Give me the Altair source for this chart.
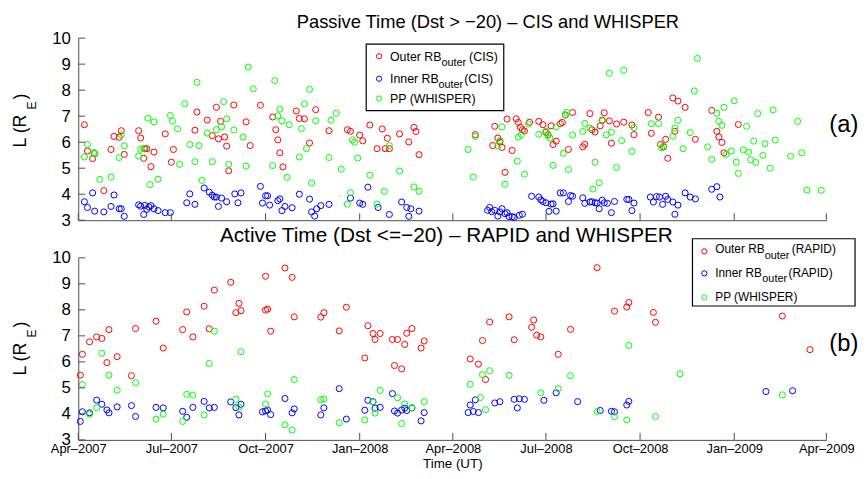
import pandas as pd
import altair as alt

START = pd.Timestamp("2007-04-01")

# (days after 1 Apr 2007, L in R_E)
passive_outer = [
    (6, 6.67), (9, 5.66), (14, 5.37), (16, 5.56), (25, 4.14), (32, 5.72), (35, 6.22),
    (40, 6.19), (42, 6.44), (45, 5.53), (59, 6.44), (61, 6.16), (64, 5.38), (65, 5.75),
    (67, 5.75), (71, 5.06), (74, 5.62), (85, 6.32), (91, 5.23), (93, 5.72), (114, 6.46),
    (116, 7.16), (126, 6.85), (131, 6.25), (135, 7.34), (137, 6.13), (139, 6.80),
    (143, 6.20), (145, 5.85), (147, 4.90), (152, 7.43), (164, 6.78), (168, 5.87),
    (178, 7.42), (190, 6.97), (193, 6.48), (195, 6.09), (197, 5.59), (200, 5.05),
    (213, 7.20), (216, 6.91), (221, 6.90), (226, 5.97), (232, 7.25), (245, 6.44),
    (263, 6.48), (266, 6.42), (275, 6.27), (278, 6.05), (285, 6.66), (292, 5.75),
    (297, 6.51), (300, 5.75), (302, 6.15), (304, 5.75), (314, 6.32), (323, 6.01),
    (328, 6.57), (330, 6.41), (333, 5.52),
    (388, 6.29), (405, 5.87), (407, 6.61), (410, 6.16), (412, 6.01), (414, 5.80),
    (417, 4.84), (419, 6.89), (424, 5.68), (428, 6.90), (430, 6.76), (432, 6.57),
    (434, 6.48), (436, 6.43), (441, 6.77), (450, 6.80), (454, 6.67), (457, 6.38),
    (459, 6.29), (462, 6.63), (464, 5.91), (467, 6.04), (471, 6.71), (473, 6.76),
    (476, 7.05), (479, 5.72), (483, 7.14), (493, 5.82), (495, 5.92), (500, 7.10),
    (502, 6.48), (505, 6.39), (510, 6.63), (512, 6.85), (514, 7.13), (519, 6.82),
    (521, 5.96), (526, 6.70), (533, 6.77), (541, 6.66), (543, 6.29), (557, 7.14),
    (560, 6.34), (567, 6.96), (569, 5.91), (572, 5.82), (574, 6.11), (576, 5.38),
    (581, 7.70), (583, 6.42), (586, 7.58), (593, 7.34), (603, 6.11), (619, 7.22),
    (624, 6.42), (626, 6.20), (629, 5.99), (631, 5.59), (645, 6.68),
]
passive_inner = [
    (6, 3.71), (9, 3.49), (14, 4.05), (16, 3.35), (25, 3.32), (32, 3.53), (35, 3.97),
    (40, 3.44), (42, 3.44), (45, 3.15), (59, 3.59), (61, 3.54), (64, 3.22), (65, 3.57),
    (67, 3.42), (69, 3.51), (71, 3.56), (74, 3.44), (78, 3.37), (85, 3.29), (90, 3.29),
    (106, 3.67), (109, 4.01), (114, 3.61), (123, 4.24), (128, 4.08), (131, 3.96),
    (133, 3.89), (135, 3.89), (137, 3.53), (140, 3.85), (145, 3.71), (153, 4.01),
    (156, 3.67), (159, 4.05), (178, 4.30), (180, 3.66), (183, 3.94), (185, 3.94),
    (187, 3.58), (195, 3.75), (197, 3.82), (199, 3.37), (202, 3.53), (209, 3.48),
    (216, 4.00), (226, 3.81), (228, 3.32), (231, 3.16), (233, 3.44), (237, 3.56),
    (245, 3.61), (266, 3.85), (275, 3.66), (278, 3.61), (283, 4.27), (293, 3.49),
    (304, 3.22), (316, 3.70), (321, 3.49), (323, 3.15), (325, 3.44), (333, 3.35),
    (400, 3.38), (402, 3.49), (404, 3.33), (407, 3.38), (410, 3.16), (412, 3.32),
    (414, 3.44), (417, 3.25), (419, 3.29), (421, 3.14), (424, 3.14), (426, 3.11),
    (431, 3.19), (434, 3.23), (443, 3.92), (450, 3.89), (452, 3.78), (454, 3.72),
    (457, 3.67), (460, 3.34), (462, 3.62), (464, 3.63), (467, 3.35), (471, 4.05),
    (474, 4.05), (479, 3.72), (481, 3.95), (483, 3.92), (493, 3.86), (495, 3.65),
    (500, 3.70), (502, 3.71), (505, 3.67), (507, 3.66), (509, 3.44), (512, 3.77),
    (514, 3.67), (517, 3.65), (521, 3.29), (524, 3.72), (536, 3.80), (538, 3.80),
    (541, 3.37), (543, 3.66), (559, 3.89), (562, 3.70), (565, 3.91), (568, 3.89),
    (571, 3.61), (574, 3.92), (576, 3.80), (581, 3.70), (583, 3.23), (586, 3.58),
    (593, 4.05), (598, 3.89), (603, 3.82), (619, 4.19), (624, 4.29), (627, 3.89),
]
passive_pp = [
    (6, 5.43), (9, 5.91), (15, 5.61), (16, 5.56), (21, 4.57), (32, 4.66), (40, 5.41),
    (42, 6.28), (45, 5.86), (59, 5.47), (61, 5.73), (64, 5.76), (68, 6.92), (70, 4.37),
    (74, 6.78), (78, 4.58), (90, 7.03), (92, 6.81), (97, 6.51), (99, 5.15), (104, 7.48),
    (109, 5.91), (114, 5.25), (116, 8.30), (118, 5.87), (121, 4.53), (126, 6.35),
    (131, 5.25), (135, 6.48), (140, 6.59), (142, 7.56), (145, 6.90), (147, 5.15),
    (152, 6.47), (161, 6.20), (164, 5.08), (166, 8.89), (171, 8.05), (190, 5.10),
    (192, 8.37), (195, 7.01), (197, 7.27), (199, 6.82), (204, 4.65), (206, 6.67),
    (216, 5.43), (218, 6.52), (221, 7.47), (223, 5.75), (226, 8.03), (228, 4.43),
    (232, 6.82), (245, 5.41), (247, 6.84), (252, 7.11), (257, 4.96), (263, 3.62),
    (266, 4.06), (268, 6.09), (270, 6.00), (273, 5.39), (285, 4.73), (292, 3.62),
    (299, 4.11), (304, 5.87), (314, 4.89), (328, 4.28), (333, 4.11),
    (381, 5.72), (386, 4.66), (388, 6.22), (410, 5.85), (412, 6.06), (414, 6.59),
    (417, 4.38), (429, 5.27), (430, 6.20), (433, 6.29), (436, 4.77), (440, 6.70),
    (450, 6.30), (457, 6.42), (459, 6.27), (461, 6.16), (464, 5.11), (467, 6.59),
    (474, 5.57), (476, 7.04), (477, 7.15), (479, 4.95), (483, 6.28), (493, 6.41),
    (495, 6.72), (500, 6.54), (503, 4.20), (505, 5.23), (509, 4.44), (512, 6.82),
    (516, 6.28), (519, 8.65), (521, 6.38), (526, 5.03), (531, 6.06), (533, 8.77),
    (541, 5.65), (543, 6.56), (560, 6.71), (567, 6.71), (570, 5.78), (572, 5.85),
    (581, 6.23), (583, 6.54), (586, 6.84), (591, 5.75), (598, 6.37), (602, 7.97),
    (605, 9.22), (615, 5.82), (619, 5.34), (624, 7.11), (626, 6.80), (629, 6.65),
    (631, 7.34), (633, 5.53), (638, 5.66), (641, 7.59), (643, 5.23), (645, 4.80),
    (650, 5.70), (653, 6.61), (655, 5.62), (657, 5.33), (660, 6.04), (662, 5.22),
    (664, 7.10), (669, 5.49), (671, 5.94), (676, 5.00), (679, 7.24), (681, 6.08),
    (696, 5.46), (703, 6.80), (707, 5.59), (712, 4.16), (726, 4.15),
]

active_outer = [
    (2, 5.49), (4, 6.29), (11, 6.77), (18, 6.96), (23, 6.90), (28, 5.97), (30, 7.24),
    (38, 6.20), (52, 5.47), (56, 7.28), (76, 7.56), (83, 6.53), (102, 7.24), (106, 7.92),
    (112, 6.96), (123, 8.14), (128, 7.27), (133, 8.76), (149, 9.06), (154, 7.89),
    (157, 8.25), (159, 7.97), (183, 7.99), (183, 9.29), (185, 8.03), (188, 7.18),
    (202, 9.61), (209, 9.25), (211, 7.73), (237, 7.72), (240, 7.89), (255, 7.19),
    (262, 8.10), (280, 6.15), (283, 7.39), (288, 7.09), (290, 6.86), (295, 7.09),
    (307, 6.86), (309, 5.86), (312, 6.86), (316, 5.73), (319, 6.67), (321, 7.10),
    (326, 7.28), (335, 6.53), (338, 6.80),
    (383, 6.11), (391, 5.91), (395, 6.82), (398, 5.32), (402, 7.53), (421, 7.73),
    (426, 6.85), (443, 7.33), (445, 7.61), (448, 7.03), (452, 6.96), (469, 6.29),
    (481, 7.25), (507, 9.62), (524, 7.95), (536, 8.11), (538, 8.28), (562, 7.90),
    (564, 7.52), (688, 7.76), (715, 6.47),
]
active_inner = [
    (2, 3.71), (4, 4.08), (11, 4.04), (18, 4.53), (23, 4.37), (28, 4.15), (30, 4.04),
    (38, 4.27), (52, 4.32), (56, 3.90), (76, 4.25), (83, 4.23), (102, 4.10), (106, 3.87),
    (112, 4.25), (123, 4.48), (128, 4.23), (133, 4.25), (149, 4.46), (154, 4.24),
    (157, 3.96), (159, 4.37), (180, 4.08), (183, 4.11), (185, 4.15), (188, 3.97),
    (202, 4.59), (209, 4.04), (211, 4.19), (237, 3.96), (240, 4.23), (255, 4.97),
    (262, 3.80), (280, 4.14), (283, 4.52), (288, 4.47), (290, 4.22), (295, 4.25),
    (307, 4.78), (309, 4.11), (312, 4.03), (316, 4.15), (319, 4.22), (321, 4.13),
    (326, 4.23), (335, 3.73), (338, 4.05),
    (381, 4.05), (383, 4.34), (386, 4.09), (388, 4.54), (391, 4.05), (407, 4.42),
    (412, 4.47), (426, 4.56), (429, 4.23), (431, 4.58), (436, 4.56), (455, 4.52),
    (467, 4.81), (488, 4.47), (510, 4.13), (521, 4.10), (524, 4.08), (536, 4.34),
    (538, 4.48), (672, 4.86), (698, 4.89),
]
active_pp = [
    (4, 5.13), (11, 3.99), (18, 4.24), (23, 6.33), (30, 5.49), (38, 4.91), (56, 5.20),
    (76, 3.80), (83, 3.99), (102, 3.71), (106, 4.75), (112, 4.72), (123, 3.96),
    (128, 5.94), (133, 7.18), (154, 4.56), (157, 4.27), (159, 6.39), (183, 4.38),
    (185, 4.77), (202, 3.58), (209, 3.38), (211, 5.32), (237, 4.54), (240, 4.57),
    (255, 3.66), (280, 3.77), (288, 4.46), (290, 4.03), (295, 4.90), (312, 4.62),
    (316, 3.63), (319, 4.38), (326, 4.24), (338, 4.47),
    (383, 5.14), (393, 4.63), (395, 5.51), (398, 4.16), (402, 5.66), (421, 5.48),
    (452, 4.81), (469, 4.97), (481, 5.47), (507, 4.09), (524, 3.89), (536, 3.77),
    (538, 6.63), (564, 3.90), (588, 5.54), (688, 4.73),
]

series_names = ["outer", "inner", "pp"]
series_colors = ["#ff0000", "#0000ff", "#00ff00"]
tick_dates = ["2007-04-01", "2007-07-01", "2007-10-01", "2008-01-01", "2008-04-01",
              "2008-07-01", "2008-10-01", "2009-01-01", "2009-04-01"]
l_ticks = [3, 4, 5, 6, 7, 8, 9, 10]

passive_title = "Passive Time (Dst > \u221220) \u2013 CIS and WHISPER"
active_title = "Active Time (Dst <=\u221220) \u2013 RAPID and WHISPER"
passive_legend = [("Outer RB", "outer", "(CIS)"), ("Inner RB", "outer", "(CIS)"),
                  ("PP (WHISPER)", "", "")]
active_legend = [("Outer RB", "outer", "(RAPID)"), ("Inner RB", "outer", "(RAPID)"),
                 ("PP (WHISPER)", "", "")]
y_title = ("L (R", "E", ")")

FONT = "Liberation Sans"
AXIS = "#4d4d4d"
W, H = 756, 184
ONE = pd.DataFrame({"k": [0]})


def to_frame(groups):
    rows = []
    for name, pts in zip(series_names, groups):
        for day, l_val in pts:
            date = (START + pd.Timedelta(days=day)).strftime("%Y-%m-%d")
            rows.append({"date": date, "L": l_val, "series": name})
    return pd.DataFrame(rows)


def utc_date(s):
    t = pd.Timestamp(s)
    return alt.DateTime(year=t.year, month=t.month, date=t.day, utc=True)


x_scale = alt.Scale(type="utc", domain=[utc_date(tick_dates[0]), utc_date(tick_dates[-1])])
y_scale = alt.Scale(domain=[3, 10], nice=False, zero=False)


def text(label, x, y, size, align="left"):
    return alt.Chart(ONE).mark_text(
        text=label, align=align, baseline="alphabetic", font=FONT,
        fontSize=size, color="black").encode(x=alt.value(x), y=alt.value(y))


def vtext(label, x, y, size):
    # text reading bottom-to-top; (x, y) is the start of its baseline
    return alt.Chart(ONE).mark_text(
        text=label, align="left", baseline="alphabetic", font=FONT,
        fontSize=size, color="black", angle=270).encode(x=alt.value(x), y=alt.value(y))


def panel(groups, title, title_x, title_y, title_size, legend, lg, tag, ylab_y, bottom):
    df = to_frame(groups)
    if bottom:
        x_axis = alt.Axis(values=[utc_date(d) for d in tick_dates], format="%b\u2013%Y",
                          labelFontSize=13, labelPadding=3, ticks=False,
                          labelFlush=False, labelOverlap=False,
                          title="Time (UT)", titleFontSize=13.5,
                          titleFontWeight="normal", titlePadding=1)
    else:
        x_axis = alt.Axis(labels=False, ticks=False, title=None)
    y_axis = alt.Axis(values=l_ticks, labelFontSize=17, ticks=False,
                      labelPadding=8, title=None, format="d")

    points = alt.Chart(df).mark_point(shape="circle", filled=False, size=38,
                                      strokeWidth=1, opacity=1).encode(
        x=alt.X("date:T", scale=x_scale, axis=x_axis),
        y=alt.Y("L:Q", scale=y_scale, axis=y_axis),
        color=alt.Color("series:N", legend=None,
                        scale=alt.Scale(domain=series_names, range=series_colors)),
    )

    # inward ticks, as in the original figure
    x_ticks = alt.Chart(pd.DataFrame({"date": tick_dates})).mark_rule(
        color=AXIS, strokeWidth=1).encode(
        x=alt.X("date:T", scale=x_scale, axis=x_axis),
        y=alt.value(H), y2=alt.value(H - 7))
    y_ticks = alt.Chart(pd.DataFrame({"L": l_ticks})).mark_rule(
        color=AXIS, strokeWidth=1).encode(
        y=alt.Y("L:Q", scale=y_scale, axis=y_axis),
        x=alt.value(0), x2=alt.value(7))

    box = alt.Chart(ONE).mark_rect(fill="white", stroke="black", strokeWidth=1.2).encode(
        x=alt.value(lg["box"][0]), x2=alt.value(lg["box"][2]),
        y=alt.value(lg["box"][1]), y2=alt.value(lg["box"][3]))

    layers = [points, x_ticks, y_ticks, box]
    for i, (main, sub, suffix) in enumerate(legend):
        layers.append(alt.Chart(ONE).mark_point(
            shape="circle", filled=False, size=28, strokeWidth=1,
            color=series_colors[i], opacity=1).encode(
            x=alt.value(lg["sym_x"]), y=alt.value(lg["sym_y"][i])))
        layers.append(text(main, lg["text_x"], lg["base"][i], lg["size"]))
        if sub:
            layers.append(text(sub, lg["sub_x"][i], lg["base"][i] + lg["sub_dy"], 11))
            layers.append(text(suffix, lg["suf_x"][i], lg["base"][i], lg["size"]))

    layers += [
        text(title, title_x, title_y, title_size, align="center"),
        text(tag, 759, 94.5, 24),
        vtext(y_title[0], -53, ylab_y, 18),
        vtext(y_title[1], -43, ylab_y - 38.5, 12),
        vtext(y_title[2], -53, ylab_y - 48.5, 18),
    ]
    return alt.layer(*layers).properties(width=W, height=H)


top = panel(
    [passive_outer, passive_inner, passive_pp], passive_title, 414, -10.7, 18.5,
    passive_legend,
    {"box": (291, 6, 430, 73.3), "sym_x": 304, "sym_y": [18.3, 41, 61],
     "text_x": 315, "base": [22.6, 45, 65.3], "sub_x": [367, 364], "sub_dy": 5.2,
     "suf_x": [395, 390], "size": 12.5},
    "(a)", 110.5, False)

bottom = panel(
    [active_outer, active_inner, active_pp], active_title, 372, -16, 21,
    active_legend,
    {"box": (620.7, -19.3, 785, 48.7), "sym_x": 632.7, "sym_y": [-6.6, 15.7, 40],
     "text_x": 643.7, "base": [-5, 19, 43.7], "sub_x": [693.7, 691.3], "sub_dy": 5.8,
     "suf_x": [721, 717.7], "size": 12},
    "(b)", 119, True)

chart = alt.vconcat(top, bottom, spacing=38, bounds="flush").properties(
    padding={"left": 4, "top": 2, "right": 0, "bottom": 0}
).configure_view(stroke=None).configure_axis(
    grid=False, domainColor=AXIS, domainWidth=1, labelFont=FONT,
    labelColor="black", titleFont=FONT, titleColor="black"
)

chart.save("out.html", embed_options={"renderer": "svg", "actions": False})
